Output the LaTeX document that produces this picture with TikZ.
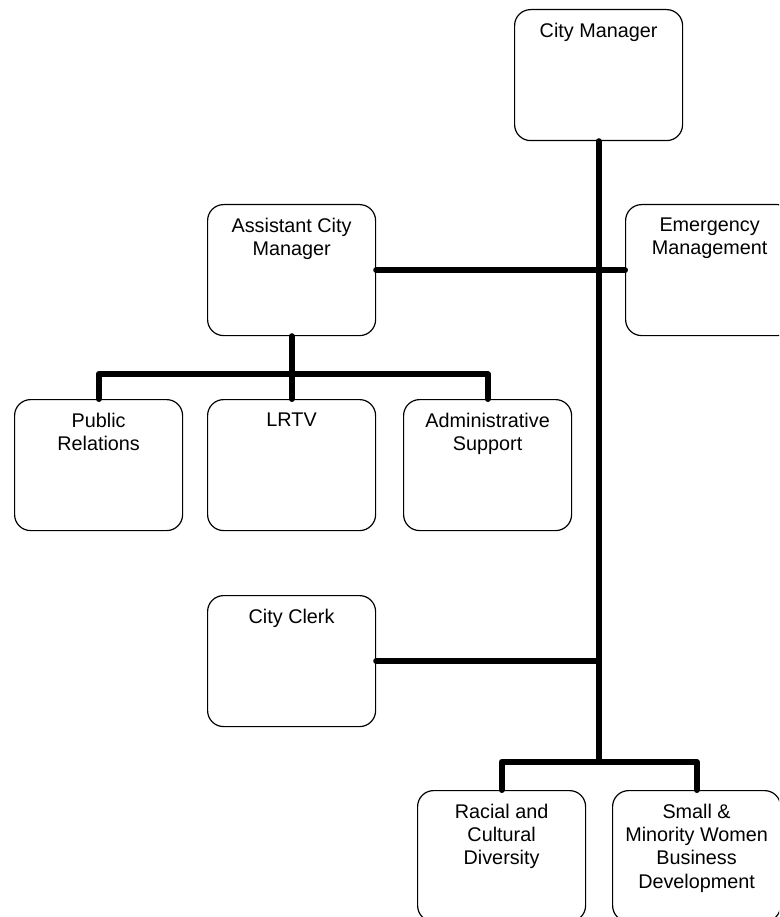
\documentclass[tikz,border=0pt]{standalone}
\usepackage{fontspec}
\setmainfont{Liberation Sans}

\newcommand{\unittext}[1]{\parbox[c][131pt][t]{168pt}{\centering\vspace*{13.5pt}#1\par}}

\begin{document}
\begin{tikzpicture}[x=1pt, y=-1pt,
    unit/.style={draw, line width=1.2pt, rounded corners=16pt, inner sep=0pt,
        anchor=north west, font=\fontsize{19.8}{23.2}\selectfont},
    link/.style={line width=6pt, line cap=round, line join=round}]
    \useasboundingbox (0,0) rectangle (779,917);
    \clip (0,0) rectangle (779,917);

    \node[unit] (cm) at (514,9) {\unittext{City Manager}};
    \node[unit] (acm) at (207,204) {\unittext{Assistant City\\Manager}};
    \node[unit] (em) at (625,204) {\unittext{Emergency\\Management}};
    \node[unit] (pr) at (14,399) {\unittext{Public\\Relations}};
    \node[unit] (lrtv) at (207,399) {\unittext{LRTV}};
    \node[unit] (admin) at (403,399) {\unittext{Administrative\\Support}};
    \node[unit] (clerk) at (207,595) {\unittext{City Clerk}};
    \node[unit] (racial) at (417,790) {\unittext{Racial and\\Cultural\\Diversity}};
    \node[unit] (small) at (612,790) {\unittext{Small \&\\Minority Women\\Business\\Development}};

    \coordinate (hub) at (cm.south |- 0,762);
    \coordinate (acmhub) at (acm.south |- 0,374);

    \draw[link] (cm.south) -- (hub);
    \draw[link] (acm.east) -- (em.west);
    \draw[link] (clerk.east) -- (clerk.east -| cm.south);
    \draw[link] (acm.south) -- (acmhub);
    \draw[link] (pr.north) |- (acmhub) -| (admin.north);
    \draw[link] (lrtv.north) -- (acmhub);
    \draw[link] (racial.north) |- (hub) -| (small.north);
\end{tikzpicture}
\end{document}
